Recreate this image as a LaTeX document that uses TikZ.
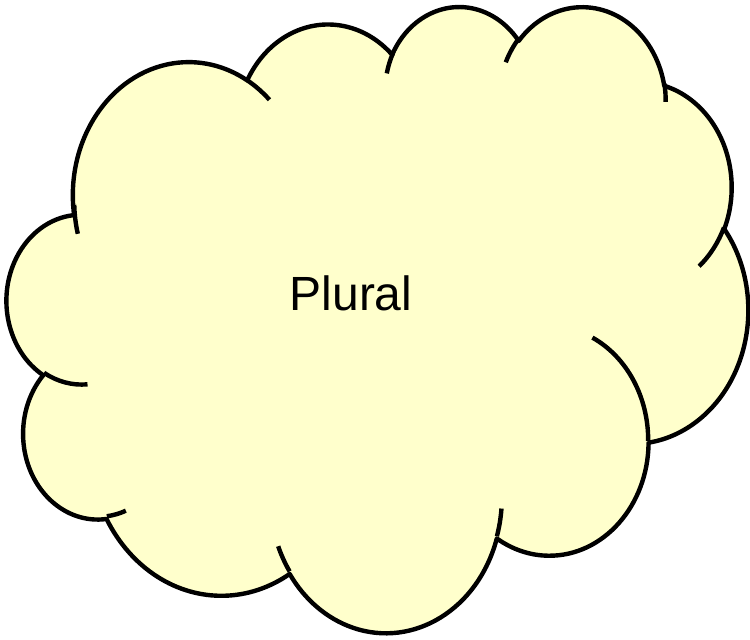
\documentclass[tikz,border=0pt]{standalone}
\usepackage{fontspec}
\setmainfont{Liberation Sans}
\definecolor{cloudfill}{HTML}{FFFFCC}
\makeatletter
% #1 name, #2 x radius, #3 y radius, #4 start (visual) angle, #5 sweep
\newcommand\mkang[5]{%
  \pgfmathsetmacro\ca@s{atan2((#2)*sin(#4),(#3)*cos(#4))}%
  \pgfmathsetmacro\ca@e{atan2((#2)*sin((#4)+(#5)),(#3)*cos((#4)+(#5)))}%
  \pgfmathsetmacro\ca@e{((#5)>0) ? ((\ca@e<\ca@s) ? (\ca@e+360) : \ca@e) : ((\ca@e>\ca@s) ? (\ca@e-360) : \ca@e)}%
  \expandafter\xdef\csname st#1\endcsname{\ca@s}%
  \expandafter\xdef\csname en#1\endcsname{\ca@e}%
}
\makeatother
\mkang{MA}{67.53}{91.90}{-190.48748}{123.78053}
\mkang{MB}{53.33}{72.67}{-144.10238}{89.94523}
\mkang{MC}{43.65}{59.45}{-145.80792}{99.72302}
\mkang{MD}{48.57}{65.95}{-130.98607}{117.24173}
\mkang{ME}{53.33}{72.73}{-78.70888}{109.02692}
\mkang{MF}{67.75}{92.20}{-46.26725}{130.269}
\mkang{MG}{57.85}{78.67}{0.62502}{114.03333}
\mkang{MH}{67.52}{92.15}{22.4516}{115.17255}
\mkang{MI}{77.20}{105.43}{66.24263}{75.71102}
\mkang{MJ}{43.60}{59.18}{-274.94208}{146.73557}
\mkang{MK}{43.45}{59.45}{-246.8285}{152.51885}
\mkang{IA}{43.45}{59.45}{86.742}{26.4295}
\mkang{IB}{43.60}{59.18}{73.61047}{11.44747}
\mkang{IC}{67.52}{92.15}{137.62415}{14.0811}
\mkang{ID}{67.52}{92.15}{6.45327}{15.99835}
\mkang{IE}{57.85}{78.67}{-70.29235}{70.91737}
\mkang{IF}{53.33}{72.73}{30.31803}{27.7515}
\mkang{IG}{48.57}{65.95}{-13.74433}{14.8589}
\mkang{IH}{48.57}{65.95}{-149.18145}{18.19537}
\mkang{II}{43.65}{59.45}{-163.49427}{17.68635}
\mkang{IJ}{67.53}{91.90}{-66.70695}{12.31935}
\mkang{IK}{67.53}{91.90}{160.853}{16.83902}
\begin{document}
\begin{tikzpicture}[x=1pt,y=-1pt,
  outline/.style={draw=black,line width=4.4pt,line join=round,line cap=butt},
  label/.style={font=\fontsize{48}{52}\selectfont,inner sep=0pt}]
\useasboundingbox (0,0) rectangle (750,640);
\begin{scope}[shift={(7pt,-5pt)},x=1.71528pt,y=-1.44907pt]
  \path[outline,fill=cloudfill] (39.00,143.70)
    arc[start angle=\stMA, end angle=\enMA, x radius=67.53, y radius=91.90]
    arc[start angle=\stMB, end angle=\enMB, x radius=53.33, y radius=72.67]
    arc[start angle=\stMC, end angle=\enMC, x radius=43.65, y radius=59.45]
    arc[start angle=\stMD, end angle=\enMD, x radius=48.57, y radius=65.95]
    arc[start angle=\stME, end angle=\enME, x radius=53.33, y radius=72.73]
    arc[start angle=\stMF, end angle=\enMF, x radius=67.75, y radius=92.20]
    arc[start angle=\stMG, end angle=\enMG, x radius=57.85, y radius=78.67]
    arc[start angle=\stMH, end angle=\enMH, x radius=67.52, y radius=92.15]
    arc[start angle=\stMI, end angle=\enMI, x radius=77.20, y radius=105.43]
    arc[start angle=\stMJ, end angle=\enMJ, x radius=43.60, y radius=59.18]
    arc[start angle=\stMK, end angle=\enMK, x radius=43.45, y radius=59.45]
    -- cycle;
  \draw[outline] (46.93,261.77) arc[start angle=\stIA, end angle=\enIA, x radius=43.45, y radius=59.45];
  \draw[outline] (69.28,348.99) arc[start angle=\stIB, end angle=\enIB, x radius=43.60, y radius=59.18];
  \draw[outline] (164.78,390.90) arc[start angle=\stIC, end angle=\enIC, x radius=67.52, y radius=92.15];
  \draw[outline] (288.27,347.51) arc[start angle=\stID, end angle=\enID, x radius=67.52, y radius=92.15];
  \draw[outline] (341.29,229.54) arc[start angle=\stIE, end angle=\enIE, x radius=57.85, y radius=78.67];
  \draw[outline] (417.98,153.54) arc[start angle=\stIF, end angle=\enIF, x radius=53.33, y radius=72.73];
  \draw[outline] (383.24,54.26) arc[start angle=\stIG, end angle=\enIG, x radius=48.57, y radius=65.95];
  \draw[outline] (290.78,39.52) arc[start angle=\stIH, end angle=\enIH, x radius=48.57, y radius=65.95];
  \draw[outline] (221.41,47.20) arc[start angle=\stII, end angle=\enII, x radius=43.65, y radius=59.45];
  \draw[outline] (140.00,51.92) arc[start angle=\stIJ, end angle=\enIJ, x radius=67.53, y radius=91.90];
  \draw[outline] (41.27,157.89) arc[start angle=\stIK, end angle=\enIK, x radius=67.53, y radius=91.90];
\end{scope}
\node[label] (plural) at (351,293) {Plural};
\end{tikzpicture}
\end{document}
